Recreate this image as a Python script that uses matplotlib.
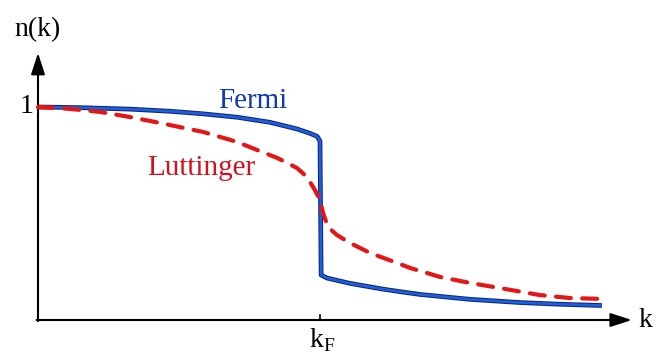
import numpy as np
import matplotlib.pyplot as plt

# occupation n(k), k in units of kF
k_fermi_lo = [0.0, 0.148, 0.326, 0.468, 0.585, 0.706, 0.823, 0.918, 0.965, 0.99, 1.0]
n_fermi_lo = [1.0, 0.997, 0.99, 0.98, 0.968, 0.952, 0.928, 0.897, 0.876, 0.862, 0.84]
k_fermi_hi = [1.0, 1.004, 1.025, 1.106, 1.223, 1.284, 1.355, 1.532, 1.709, 1.85, 2.0]
n_fermi_hi = [0.84, 0.211, 0.197, 0.172, 0.145, 0.133, 0.120, 0.097, 0.082, 0.074, 0.068]

k_lutt = [0.0, 0.113, 0.22, 0.326, 0.433, 0.585, 0.706, 0.777, 0.848, 0.918,
          0.954, 0.982, 1.0, 1.011, 1.028, 1.06, 1.106, 1.177, 1.273, 1.32,
          1.426, 1.532, 1.638, 1.78, 1.887, 2.0]
n_lutt = [1.0, 0.991, 0.977, 0.953, 0.925, 0.883, 0.836, 0.798, 0.761, 0.714,
          0.671, 0.61, 0.563, 0.502, 0.437, 0.399, 0.362, 0.315, 0.268, 0.244,
          0.202, 0.174, 0.150, 0.117, 0.103, 0.099]

k_F = 1.0

plt.rcParams['font.family'] = ['Liberation Serif', 'DejaVu Serif']
plt.rcParams['mathtext.fontset'] = 'custom'
plt.rcParams['mathtext.rm'] = 'Liberation Serif'

fig = plt.figure(figsize=(6.56, 3.58), dpi=100)
ax = fig.add_axes([0, 0, 1, 1])
ax.set_xlim(-38 / 282, 618 / 282)
ax.set_ylim(-38 / 213, 320 / 213)
ax.axis('off')

# axes with arrow heads
head = '-|>,head_length=1.3,head_width=0.42'
ax.annotate('', xy=(0, 1.254), xytext=(0, -0.005),
            arrowprops=dict(arrowstyle=head, color='black', lw=1.5,
                            shrinkA=0, shrinkB=0))
ax.annotate('', xy=(2.106, 0), xytext=(-0.005, 0),
            arrowprops=dict(arrowstyle=head, color='black', lw=1.5,
                            shrinkA=0, shrinkB=0))
ax.plot([k_F, k_F], [0, 0.025], color='black', lw=1.2)

# Fermi step (dark rim + blue core)
k_f = k_fermi_lo + k_fermi_hi
n_f = n_fermi_lo + n_fermi_hi
ax.plot(k_f, n_f, color='#10286e', lw=3.4, solid_joinstyle='round',
        solid_capstyle='butt', zorder=3)
ax.plot(k_f, n_f, color='#1d5fe0', lw=1.9, solid_joinstyle='round',
        solid_capstyle='butt', zorder=3)

# Luttinger liquid
ax.plot(k_lutt, n_lutt, color='#e41616', lw=3.0, ls=(0, (3.6, 2.7)),
        dash_capstyle='round', solid_joinstyle='round', zorder=4)

ax.text(0.638, 0.995, 'Fermi', color='#1238b4', fontsize=21,
        ha='left', va='baseline')
ax.text(0.387, 0.681, 'Luttinger', color='#d4101a', fontsize=21,
        ha='left', va='baseline')

ax.text(-0.039, 0.972, '1', fontsize=20, ha='center', va='baseline')
ax.text(0.0, 1.333, 'n(k)', fontsize=20, ha='center', va='baseline')
ax.text(2.131, -0.033, 'k', fontsize=20, ha='left', va='baseline')
ax.text(0.96, -0.127, r'k$_{\mathrm{F}}$', fontsize=20, ha='left',
        va='baseline')

fig.savefig('out.png', dpi=100)
